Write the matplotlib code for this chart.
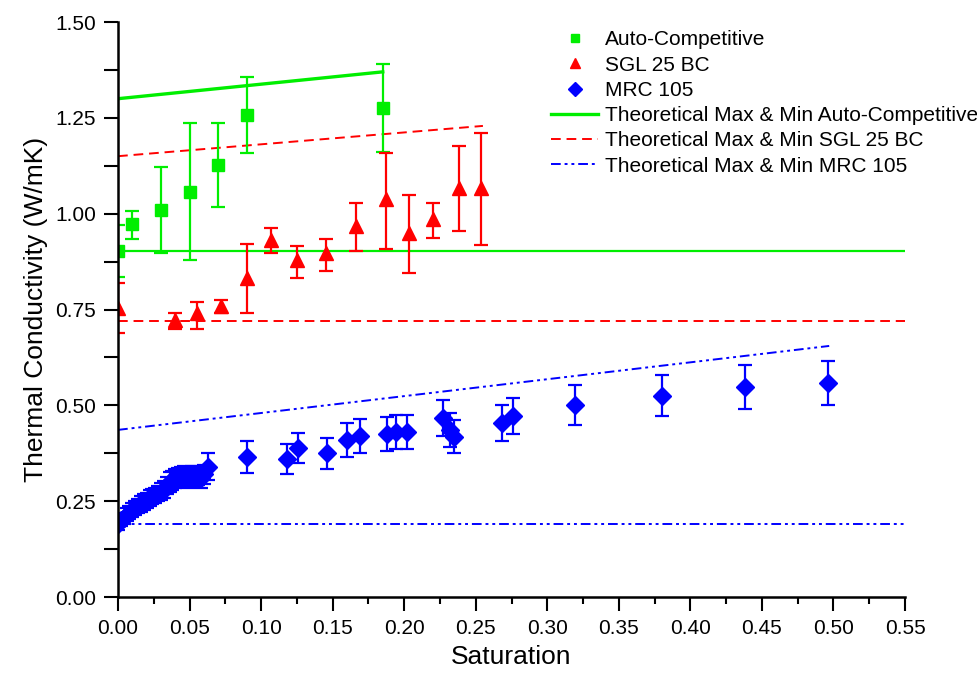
#!/usr/bin/env python3
"""Thermal conductivity vs saturation for three GDL materials, with theoretical bounds."""
import numpy as np
import matplotlib
matplotlib.use("Agg")
import matplotlib.pyplot as plt
from matplotlib.ticker import MultipleLocator, FormatStrFormatter

plt.rcParams['font.family'] = ['Liberation Sans', 'DejaVu Sans']

# ── measured data ────────────────────────────────────────────────────────────
auto_x   = [0.000, 0.010, 0.030, 0.050, 0.070, 0.090, 0.185]
auto_y   = [0.903, 0.973, 1.010, 1.057, 1.128, 1.257, 1.276]
auto_lo  = [0.835, 0.934, 0.897, 0.879, 1.017, 1.158, 1.161]
auto_hi  = [0.970, 1.007, 1.122, 1.237, 1.237, 1.357, 1.390]

sgl_x    = [0.000, 0.040, 0.055, 0.072, 0.090, 0.107, 0.125, 0.145, 0.166,
            0.187, 0.203, 0.220, 0.238, 0.254]
sgl_y    = [0.755, 0.723, 0.740, 0.759, 0.832, 0.931, 0.878, 0.897, 0.968,
            1.038, 0.950, 0.986, 1.067, 1.067]
sgl_lo   = [0.690, 0.700, 0.700, 0.741, 0.741, 0.897, 0.832, 0.851, 0.903,
            0.908, 0.845, 0.937, 0.955, 0.918]
sgl_hi   = [0.820, 0.740, 0.770, 0.775, 0.921, 0.963, 0.916, 0.934, 1.028,
            1.158, 1.049, 1.028, 1.177, 1.210]

mrc_x    = [0.000, 0.002, 0.004, 0.006, 0.008, 0.010, 0.012, 0.014, 0.016,
            0.018, 0.020, 0.022, 0.024, 0.026, 0.028, 0.030, 0.032, 0.034,
            0.036, 0.038, 0.040, 0.042, 0.044, 0.046, 0.048, 0.050, 0.052,
            0.054, 0.056, 0.058, 0.060, 0.063, 0.090, 0.118, 0.126, 0.146,
            0.160, 0.169, 0.188, 0.194, 0.202, 0.227, 0.232, 0.235, 0.268,
            0.276, 0.319, 0.380, 0.438, 0.496]
mrc_y    = [0.190, 0.200, 0.205, 0.215, 0.220, 0.228, 0.232, 0.238, 0.243,
            0.248, 0.252, 0.258, 0.262, 0.265, 0.270, 0.275, 0.280, 0.290,
            0.300, 0.305, 0.310, 0.312, 0.315, 0.318, 0.310, 0.315, 0.318,
            0.312, 0.318, 0.310, 0.320, 0.340, 0.365, 0.360, 0.389, 0.375,
            0.410, 0.420, 0.425, 0.431, 0.430, 0.467, 0.436, 0.418, 0.454,
            0.472, 0.501, 0.525, 0.548, 0.558]
mrc_err  = [0.015, 0.015, 0.015, 0.017, 0.017, 0.018, 0.018, 0.018, 0.020,
            0.020, 0.020, 0.020, 0.020, 0.020, 0.020, 0.022, 0.022, 0.022,
            0.025, 0.025, 0.025, 0.025, 0.025, 0.025, 0.025, 0.025, 0.025,
            0.025, 0.025, 0.025, 0.025, 0.035, 0.042, 0.040, 0.040, 0.040,
            0.044, 0.044, 0.045, 0.045, 0.045, 0.048, 0.045, 0.043, 0.047,
            0.048, 0.051, 0.054, 0.057, 0.058]

# ── theoretical bounds (start/end points) ────────────────────────────────────
auto_max_x, auto_max_y = [0.0, 0.185], [1.300, 1.370]
auto_min_x, auto_min_y = [0.0, 0.55], [0.903, 0.903]
sgl_max_x,  sgl_max_y  = [0.0, 0.255], [1.150, 1.229]
sgl_min_x,  sgl_min_y  = [0.0, 0.55], [0.720, 0.720]
mrc_max_x,  mrc_max_y  = [0.0, 0.497], [0.436, 0.655]
mrc_min_x,  mrc_min_y  = [0.0, 0.55], [0.190, 0.190]

GREEN, RED, BLUE = '#00ee00', '#ff0000', '#0000ff'

fig = plt.figure(figsize=(9.78, 6.86), dpi=100)
ax = fig.add_axes([0.1207, 0.1297, 0.8047, 0.8382])

# ── bound lines ──────────────────────────────────────────────────────────────
ax.plot(auto_max_x, auto_max_y, '-', color=GREEN, lw=2.4,
        label="Theoretical Max & Min Auto-Competitive")
ax.plot(auto_min_x, auto_min_y, '-', color=GREEN, lw=1.6)
ax.plot(sgl_max_x, sgl_max_y, color=RED, lw=1.4, ls=(0, (5, 3)),
        label="Theoretical Max & Min SGL 25 BC")
ax.plot(sgl_min_x, sgl_min_y, color=RED, lw=1.4, ls=(0, (5, 3)))
dashdotdot = (0, (5, 2, 1.5, 2, 1.5, 2))
ax.plot(mrc_max_x, mrc_max_y, color=BLUE, lw=1.4, ls=dashdotdot,
        label="Theoretical Max & Min MRC 105")
ax.plot(mrc_min_x, mrc_min_y, color=BLUE, lw=1.4, ls=dashdotdot)

# ── measurements ─────────────────────────────────────────────────────────────
def yerr(y, lo, hi):
    y, lo, hi = map(np.asarray, (y, lo, hi))
    return np.vstack([y - lo, hi - y])

ekw = dict(ls='none', capsize=5, elinewidth=1.6, capthick=1.6)
h_auto = ax.errorbar(auto_x, auto_y, yerr=yerr(auto_y, auto_lo, auto_hi),
                     fmt='s', ms=8, color=GREEN, mec=GREEN, **ekw)
h_sgl = ax.errorbar(sgl_x, sgl_y, yerr=yerr(sgl_y, sgl_lo, sgl_hi),
                    fmt='^', ms=10, color=RED, mec=RED, **ekw)
h_mrc = ax.errorbar(mrc_x, mrc_y, yerr=mrc_err,
                    fmt='D', ms=9.5, color=BLUE, mec=BLUE, **ekw)

# ── axes ─────────────────────────────────────────────────────────────────────
ax.set_xlim(0, 0.55); ax.set_ylim(0, 1.5)
ax.xaxis.set_major_locator(MultipleLocator(0.05))
ax.xaxis.set_minor_locator(MultipleLocator(0.025))
ax.yaxis.set_major_locator(MultipleLocator(0.25))
ax.yaxis.set_minor_locator(MultipleLocator(0.125))
ax.xaxis.set_major_formatter(FormatStrFormatter('%.2f'))
ax.yaxis.set_major_formatter(FormatStrFormatter('%.2f'))
ax.tick_params(which='major', direction='out', length=10, width=1.5, labelsize=15, pad=6)
ax.tick_params(axis='x', which='minor', direction='out', length=5, width=1.5)
ax.tick_params(axis='y', which='minor', direction='out', length=10, width=1.5)
for s in ('top', 'right'):
    ax.spines[s].set_visible(False)
for s in ('left', 'bottom'):
    ax.spines[s].set_linewidth(1.8)

ax.set_xlabel("Saturation", fontsize=19, labelpad=5)
ax.set_ylabel("Thermal Conductivity (W/mK)", fontsize=19, labelpad=5)

handles, labels = ax.get_legend_handles_labels()
leg_h = [h_auto[0], h_sgl[0], h_mrc[0]] + handles
leg_l = ["Auto-Competitive", "SGL 25 BC", "MRC 105"] + labels
ax.legend(leg_h, leg_l, loc='upper left', bbox_to_anchor=(0.539, 1.0),
          frameon=False, fontsize=15, handlelength=2.3, handletextpad=0.3,
          labelspacing=0.3, markerscale=0.75, borderaxespad=0)

fig.savefig("out.png", dpi=100)
